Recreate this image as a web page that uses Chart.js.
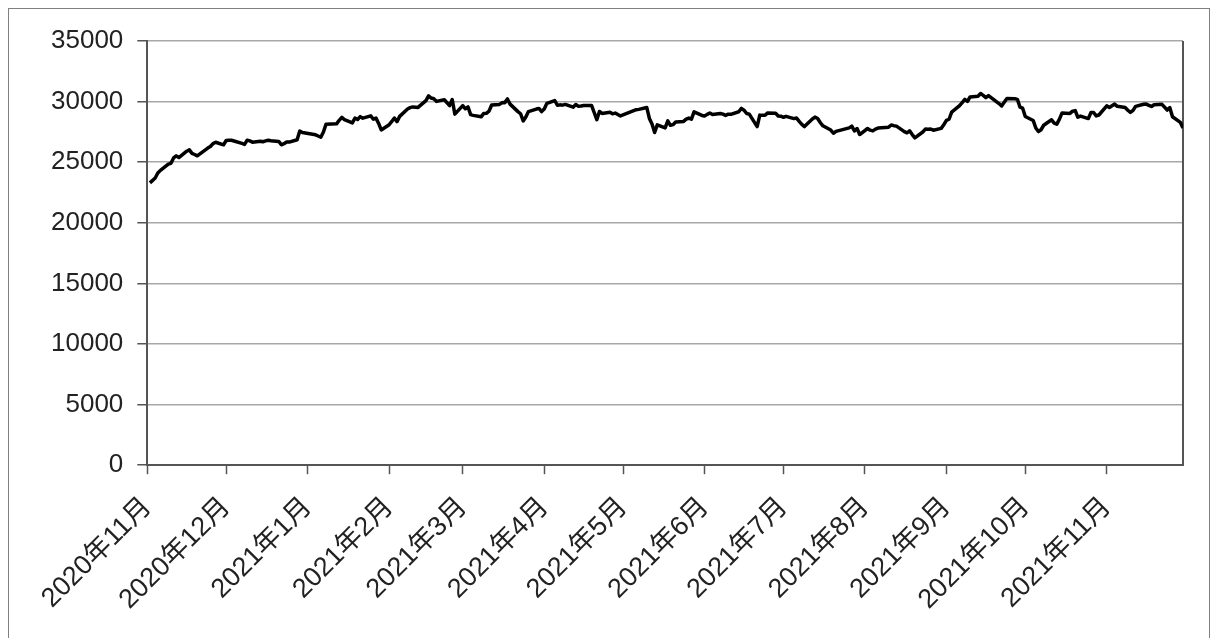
<!DOCTYPE html>
<html>
<head>
<meta charset="utf-8">
<title>日経平均 終値</title>
<style>
  html, body { margin: 0; background: #fff; overflow: hidden; }
  #frame { position: absolute; left: 8px; top: 8px; width: 1200px; height: 650px; border: 1px solid #808080; }
  canvas { display: block; }
</style>
</head>
<body>
<div id="frame"><canvas id="chart" width="1200" height="650"></canvas></div>
<script src="https://cdn.jsdelivr.net/npm/chart.js@4.4.1/dist/chart.umd.min.js"></script>
<script>
// 取引日と終値
const tradeDates = [
  '2020-11-02','2020-11-04','2020-11-05','2020-11-06','2020-11-09','2020-11-10','2020-11-11','2020-11-12','2020-11-13',
  '2020-11-16','2020-11-17','2020-11-18','2020-11-19','2020-11-20','2020-11-24','2020-11-25','2020-11-26','2020-11-27','2020-11-30',
  '2020-12-01','2020-12-02','2020-12-03','2020-12-04','2020-12-07','2020-12-08','2020-12-09','2020-12-10','2020-12-11',
  '2020-12-14','2020-12-15','2020-12-16','2020-12-17','2020-12-18','2020-12-21','2020-12-22','2020-12-23','2020-12-24','2020-12-25',
  '2020-12-28','2020-12-29','2020-12-30',
  '2021-01-04','2021-01-05','2021-01-06','2021-01-07','2021-01-08','2021-01-12','2021-01-13','2021-01-14','2021-01-15',
  '2021-01-18','2021-01-19','2021-01-20','2021-01-21','2021-01-22','2021-01-25','2021-01-26','2021-01-27','2021-01-28','2021-01-29',
  '2021-02-01','2021-02-02','2021-02-03','2021-02-04','2021-02-05','2021-02-08','2021-02-09','2021-02-10','2021-02-12',
  '2021-02-15','2021-02-16','2021-02-17','2021-02-18','2021-02-19','2021-02-22','2021-02-24','2021-02-25','2021-02-26',
  '2021-03-01','2021-03-02','2021-03-03','2021-03-04','2021-03-05','2021-03-08','2021-03-09','2021-03-10','2021-03-11','2021-03-12',
  '2021-03-15','2021-03-16','2021-03-17','2021-03-18','2021-03-19','2021-03-22','2021-03-23','2021-03-24','2021-03-25','2021-03-26',
  '2021-03-29','2021-03-30','2021-03-31',
  '2021-04-01','2021-04-02','2021-04-05','2021-04-06','2021-04-07','2021-04-08','2021-04-09','2021-04-12','2021-04-13','2021-04-14',
  '2021-04-15','2021-04-16','2021-04-19','2021-04-20','2021-04-21','2021-04-22','2021-04-23','2021-04-26','2021-04-27','2021-04-28','2021-04-30',
  '2021-05-06','2021-05-07','2021-05-10','2021-05-11','2021-05-12','2021-05-13','2021-05-14','2021-05-17','2021-05-18','2021-05-19',
  '2021-05-20','2021-05-21','2021-05-24','2021-05-25','2021-05-26','2021-05-27','2021-05-28','2021-05-31',
  '2021-06-01','2021-06-02','2021-06-03','2021-06-04','2021-06-07','2021-06-08','2021-06-09','2021-06-10','2021-06-11',
  '2021-06-14','2021-06-15','2021-06-16','2021-06-17','2021-06-18','2021-06-21','2021-06-22','2021-06-23','2021-06-24','2021-06-25',
  '2021-06-28','2021-06-29','2021-06-30',
  '2021-07-01','2021-07-02','2021-07-05','2021-07-06','2021-07-07','2021-07-08','2021-07-09','2021-07-12','2021-07-13','2021-07-14',
  '2021-07-15','2021-07-16','2021-07-19','2021-07-20','2021-07-21','2021-07-26','2021-07-27','2021-07-28','2021-07-29','2021-07-30',
  '2021-08-02','2021-08-03','2021-08-04','2021-08-05','2021-08-06','2021-08-10','2021-08-11','2021-08-12','2021-08-13',
  '2021-08-16','2021-08-17','2021-08-18','2021-08-19','2021-08-20','2021-08-23','2021-08-24','2021-08-25','2021-08-26','2021-08-27',
  '2021-08-30','2021-08-31',
  '2021-09-01','2021-09-02','2021-09-03','2021-09-06','2021-09-07','2021-09-08','2021-09-09','2021-09-10','2021-09-13','2021-09-14',
  '2021-09-15','2021-09-16','2021-09-17','2021-09-21','2021-09-22','2021-09-24','2021-09-27','2021-09-28','2021-09-29','2021-09-30',
  '2021-10-01','2021-10-04','2021-10-05','2021-10-06','2021-10-07','2021-10-08','2021-10-11','2021-10-12','2021-10-13','2021-10-14',
  '2021-10-15','2021-10-18','2021-10-19','2021-10-20','2021-10-21','2021-10-22','2021-10-25','2021-10-26','2021-10-27','2021-10-28','2021-10-29',
  '2021-11-01','2021-11-02','2021-11-04','2021-11-05','2021-11-08','2021-11-09','2021-11-10','2021-11-11','2021-11-12',
  '2021-11-15','2021-11-16','2021-11-17','2021-11-18','2021-11-19','2021-11-22','2021-11-24','2021-11-25','2021-11-26',
  '2021-11-29','2021-11-30'
];
const closes = [
  23295,23695,24105,24325,24840,24906,25350,25521,25386,
  25907,26015,25728,25634,25527,26166,26297,26537,26645,26434,
  26788,26801,26809,26751,26547,26467,26818,26756,26653,
  26732,26688,26757,26807,26763,26714,26436,26525,26668,26657,
  26854,27568,27444,
  27258,27159,27056,27490,28139,28164,28457,28698,28519,
  28242,28633,28523,28757,28631,28822,28546,28635,28197,27663,
  28091,28362,28647,28342,28779,29389,29506,29563,29520,
  30084,30468,30292,30236,30018,30156,29672,30168,28966,
  29664,29408,29559,28930,28864,28743,29028,29037,29212,29718,
  29767,29921,29914,30217,29792,29174,28996,28406,28730,29177,
  29385,29433,29179,
  29389,29854,30089,29697,29731,29709,29768,29539,29752,29621,
  29643,29683,29685,29100,28509,29188,29021,29126,28992,29054,28813,
  29331,29358,29518,28609,28148,27448,28084,27825,28407,28044,
  28098,28318,28365,28554,28642,28549,29149,28860,
  28814,28946,29058,28942,29019,28964,28861,28959,28949,
  29162,29441,29291,29018,28964,27938,28884,28875,28875,29066,
  29048,28813,28792,
  28707,28783,28598,28643,28367,28118,27940,28569,28718,28608,
  28279,28003,27653,27388,27548,27833,27970,27582,27782,27284,
  27781,27642,27584,27728,27820,27888,28071,28015,27977,
  27523,27424,27586,27281,27013,27494,27732,27725,27742,27641,
  27789,28090,
  28451,28544,29128,29660,29916,30181,30008,30382,30447,30670,
  30512,30323,30500,29840,29639,30249,30240,30184,29544,29453,
  28771,28445,27822,27529,27678,28049,28498,28231,28140,28551,
  29069,29025,29216,29256,28709,28805,28600,29106,29098,28820,28893,
  29647,29521,29794,29612,29507,29285,29107,29278,29610,
  29777,29808,29688,29599,29746,29774,29303,29499,28752,
  28284,27822
];
// 目盛り（各月の初日）と軸の端
const monthStarts = [
  '2020-11-01','2020-12-01','2021-01-01','2021-02-01','2021-03-01','2021-04-01','2021-05-01',
  '2021-06-01','2021-07-01','2021-08-01','2021-09-01','2021-10-01','2021-11-01'
];
const axisEnd = '2021-11-30';
const yTicks = [0, 5000, 10000, 15000, 20000, 25000, 30000, 35000];

const DAY = 86400000;
const origin = Date.parse(monthStarts[0]);
function dayNo(s) { return Math.round((Date.parse(s) - origin) / DAY); }
function monthLabel(s) {
  const p = s.split('-');
  return p[0] + '年' + Number(p[1]) + '月';
}

const points = tradeDates.map((d, i) => ({ x: dayNo(d), y: closes[i] }));
const tickDays = monthStarts.map(dayNo);
const tickText = {};
monthStarts.forEach(s => { tickText[dayNo(s)] = monthLabel(s); });

// プロットエリア右端の枠線
const plotBorder = {
  id: 'plotBorder',
  beforeDatasetsDraw(chart) {
    const a = chart.chartArea, c = chart.ctx;
    c.save();
    c.strokeStyle = '#555';
    c.lineWidth = 2;
    c.beginPath();
    c.moveTo(a.right, a.top);
    c.lineTo(a.right, a.bottom);
    c.stroke();
    c.restore();
  }
};

Chart.defaults.font.family = '"Liberation Sans", "Noto Sans CJK JP", sans-serif';
Chart.defaults.font.size = 26;
Chart.defaults.color = '#222';

new Chart(document.getElementById('chart'), {
  type: 'line',
  data: {
    datasets: [{
      data: points,
      borderColor: '#000',
      borderWidth: 3.5,
      borderJoinStyle: 'round',
      pointRadius: 0,
      tension: 0,
      fill: false
    }]
  },
  options: {
    responsive: false,
    animation: false,
    layout: { padding: { left: 28, right: 26, top: 32, bottom: 26 } },
    plugins: { legend: { display: false }, tooltip: { enabled: false } },
    scales: {
      x: {
        type: 'linear',
        min: 0,
        max: dayNo(axisEnd),
        afterBuildTicks: scale => { scale.ticks = tickDays.map(v => ({ value: v })); },
        grid: { drawOnChartArea: false, drawTicks: true, tickLength: 9, tickColor: '#555', tickWidth: 1.5 },
        border: { color: '#555', width: 2 },
        ticks: {
          autoSkip: false,
          minRotation: 45,
          maxRotation: 45,
          padding: 17,
          font: { size: 27 },
          callback: v => tickText[v] || ''
        }
      },
      y: {
        min: 0,
        max: 35000,
        afterBuildTicks: scale => { scale.ticks = yTicks.map(v => ({ value: v })); },
        grid: { color: '#a8a8a8', lineWidth: 1.5, tickLength: 10, tickColor: '#555', tickWidth: 1.5 },
        border: { color: '#555', width: 2 },
        ticks: { padding: 14, callback: v => String(v) }
      }
    }
  },
  plugins: [plotBorder]
});
</script>
</body>
</html>
